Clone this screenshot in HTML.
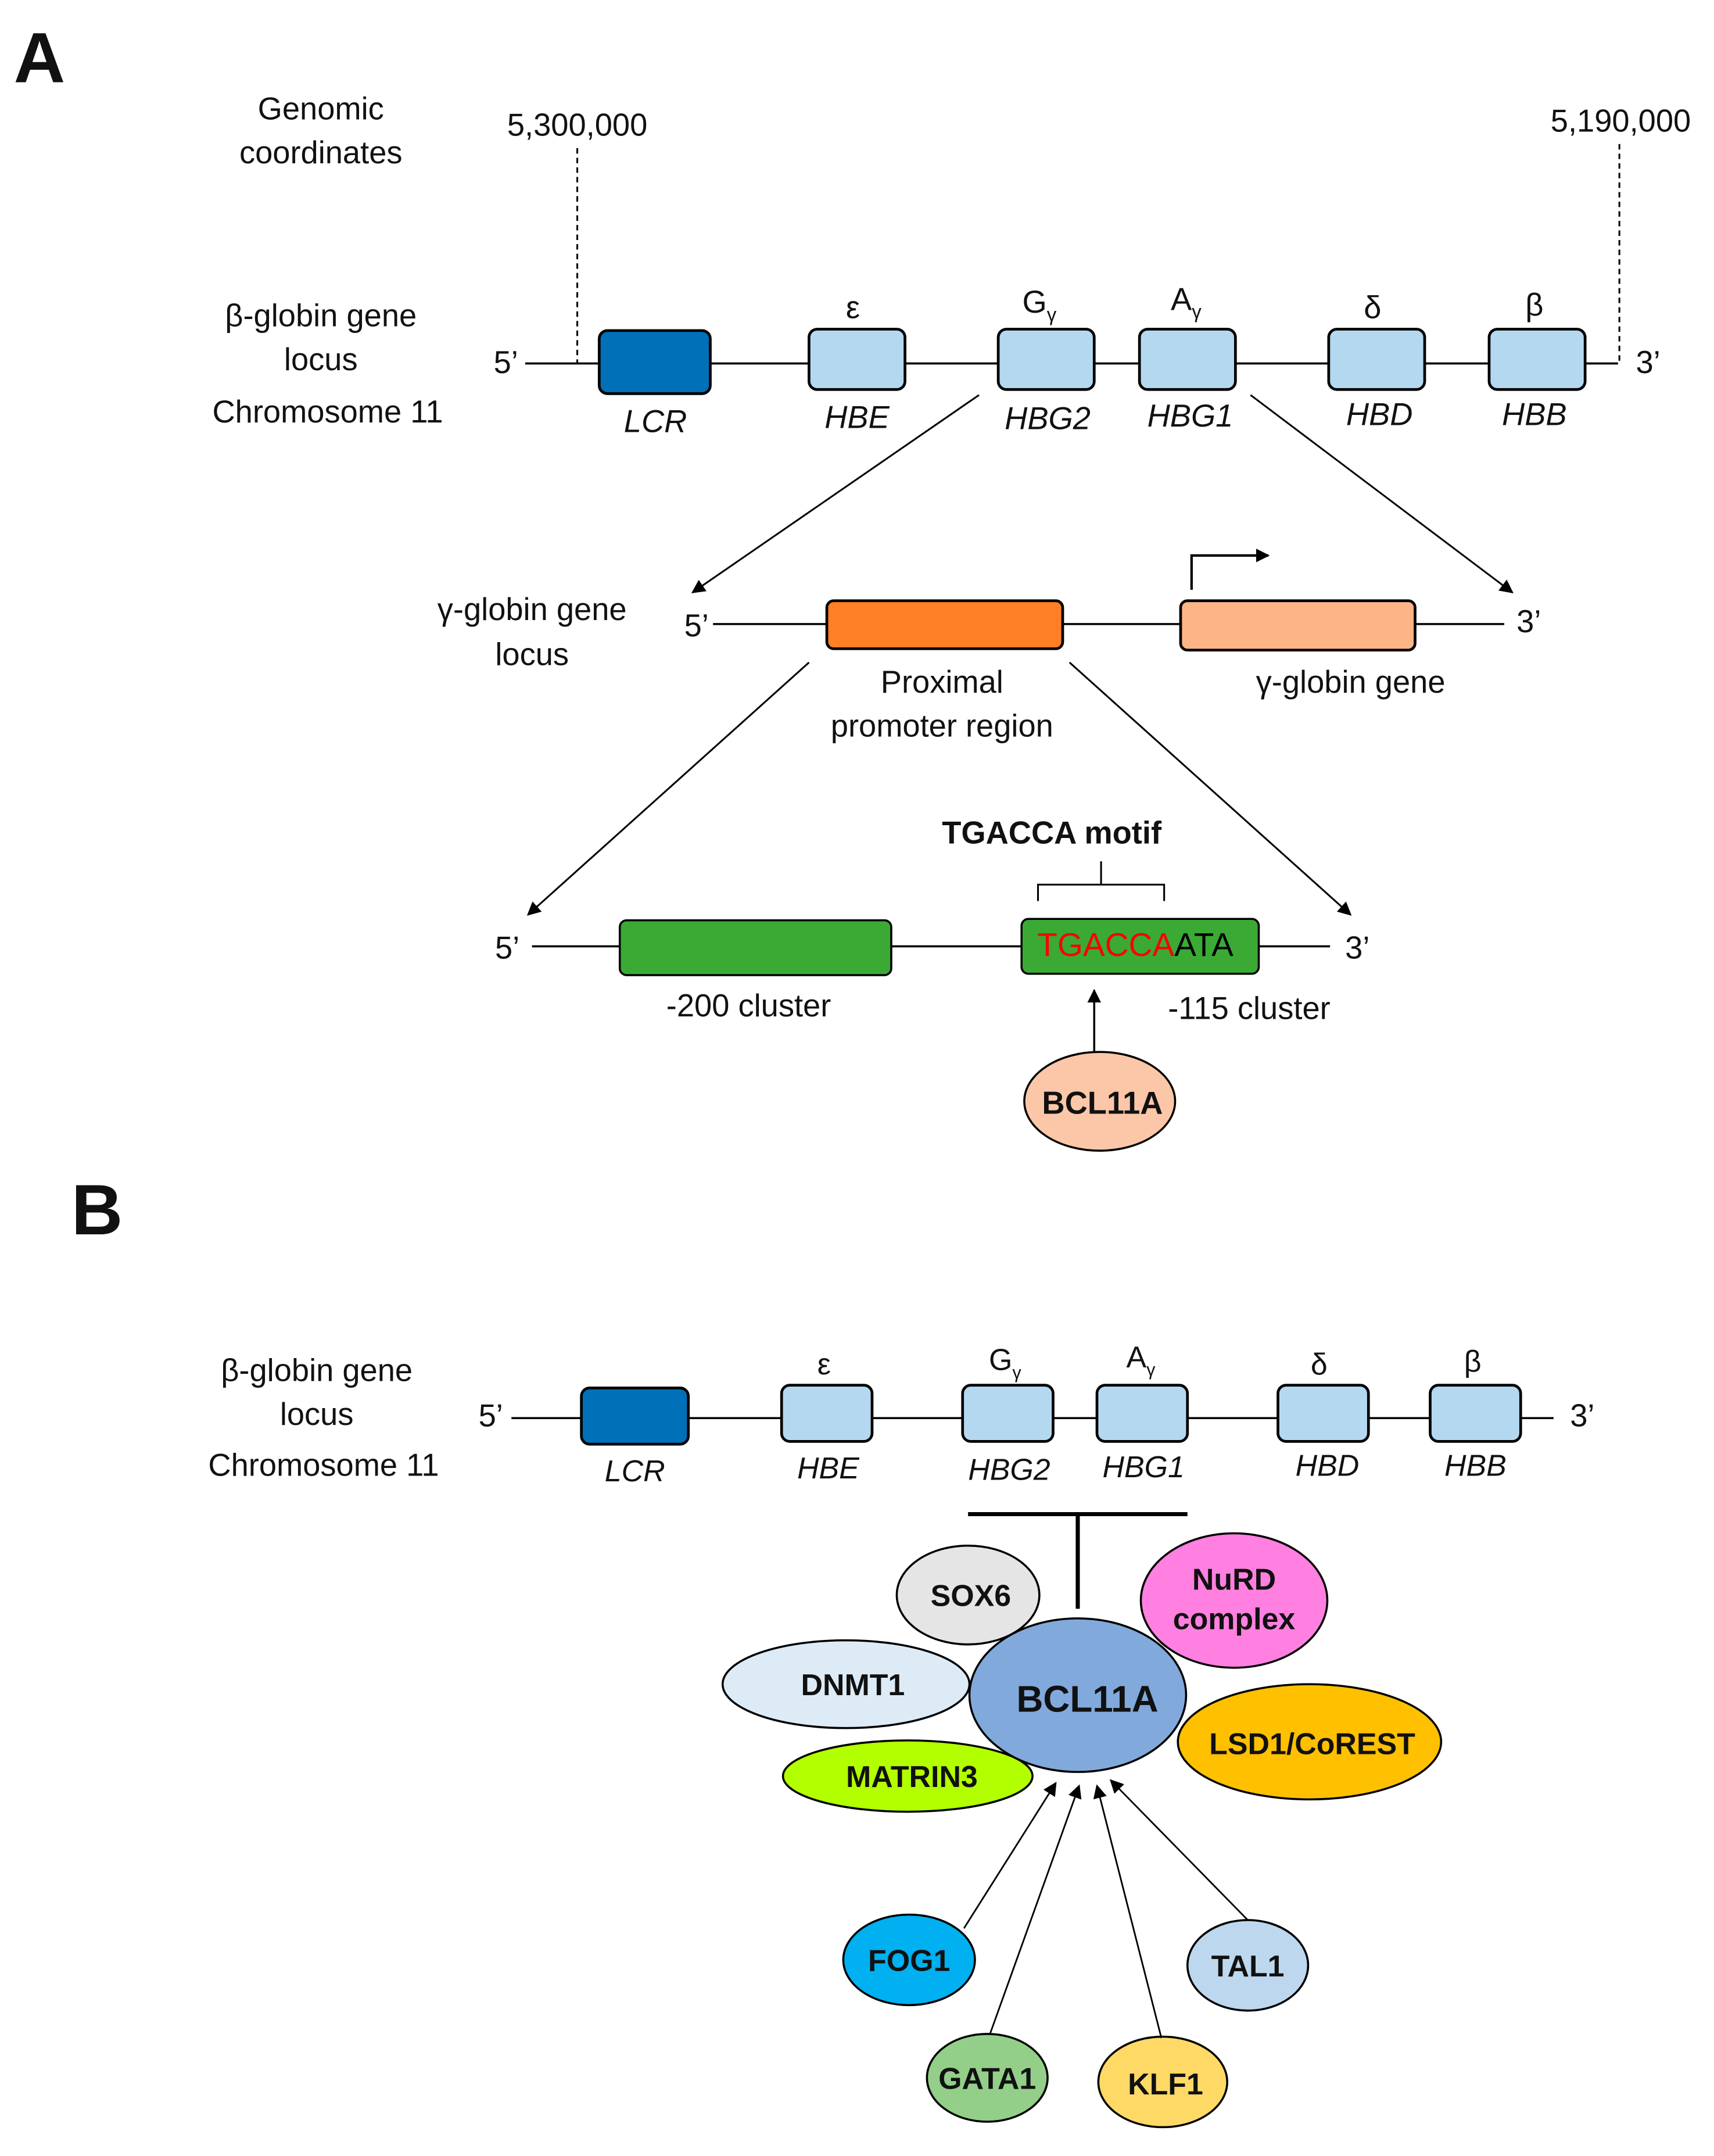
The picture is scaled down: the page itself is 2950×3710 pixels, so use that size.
<!DOCTYPE html>
<html><head><meta charset="utf-8"><style>
html,body{margin:0;padding:0;background:#fff;width:2950px;height:3710px;overflow:hidden}
svg{display:block}
text{font-family:"Liberation Sans",Arial,sans-serif;fill:#111}
</style></head><body>
<svg width="2950" height="3710" viewBox="0 0 1250 1572" xmlns="http://www.w3.org/2000/svg">
<defs>
<marker id="ah" markerWidth="10" markerHeight="10" refX="9" refY="5" orient="auto" markerUnits="userSpaceOnUse"><path d="M0,0 L10,5 L0,10 z" fill="#000"/></marker>
</defs>
<!-- A -->
<text x="10" y="60" font-size="52" font-weight="bold">A</text>
<g font-size="23" text-anchor="middle">
<text x="234" y="87">Genomic</text><text x="234" y="119">coordinates</text>
<text x="421" y="99">5,300,000</text><text x="1182" y="96">5,190,000</text>
<text x="234" y="238">β-globin gene</text><text x="234" y="270">locus</text><text x="239" y="308">Chromosome 11</text>
</g>
<line x1="421" y1="108" x2="421" y2="265" stroke="#000" stroke-width="1.3" stroke-dasharray="4,3"/>
<line x1="1181" y1="105" x2="1181" y2="265" stroke="#000" stroke-width="1.3" stroke-dasharray="4,3"/>
<text x="360" y="272" font-size="23">5’</text>
<text x="1193" y="272" font-size="23">3’</text>
<line x1="383" y1="265" x2="1180" y2="265" stroke="#000" stroke-width="1.5"/>
<g stroke="#000" stroke-width="2">
<rect x="437" y="241" width="81" height="46" rx="6" fill="#0070b8"/>
<rect x="590" y="240" width="70" height="44" rx="6" fill="#b4d8ef"/>
<rect x="728" y="240" width="70" height="44" rx="6" fill="#b4d8ef"/>
<rect x="831" y="240" width="70" height="44" rx="6" fill="#b4d8ef"/>
<rect x="969" y="240" width="70" height="44" rx="6" fill="#b4d8ef"/>
<rect x="1086" y="240" width="70" height="44" rx="6" fill="#b4d8ef"/>
</g>
<g font-size="23" text-anchor="middle">
<text x="622" y="232">ε</text>
<text x="758" y="228">G<tspan font-size="14" dy="6">γ</tspan></text>
<text x="865" y="226">A<tspan font-size="14" dy="6">γ</tspan></text>
<text x="1001" y="232">δ</text><text x="1119" y="230">β</text>
</g>
<g font-size="23" text-anchor="middle" font-style="italic">
<text x="478" y="315">LCR</text><text x="625" y="312">HBE</text><text x="764" y="313">HBG2</text>
<text x="868" y="311">HBG1</text><text x="1006" y="310">HBD</text><text x="1119" y="310">HBB</text>
</g>
<line x1="714" y1="288" x2="505" y2="432" stroke="#000" stroke-width="1.3" marker-end="url(#ah)"/>
<line x1="912" y1="288" x2="1103" y2="432" stroke="#000" stroke-width="1.3" marker-end="url(#ah)"/>
<g font-size="23" text-anchor="middle">
<text x="388" y="452">γ-globin gene</text><text x="388" y="485">locus</text>
<text x="687" y="505">Proximal</text><text x="687" y="537">promoter region</text>
<text x="985" y="505">γ-globin gene</text>
</g>
<text x="499" y="464" font-size="23">5’</text>
<text x="1106" y="461" font-size="23">3’</text>
<line x1="520" y1="455" x2="1097" y2="455" stroke="#000" stroke-width="1.5"/>
<rect x="603" y="438" width="172" height="35" rx="5" fill="#ff7f27" stroke="#000" stroke-width="2"/>
<rect x="861" y="438" width="171" height="36" rx="5" fill="#fdb587" stroke="#000" stroke-width="2"/>
<polyline points="869,430 869,405 925,405" fill="none" stroke="#000" stroke-width="1.8" marker-end="url(#ah)"/>
<line x1="590" y1="483" x2="385" y2="667" stroke="#000" stroke-width="1.3" marker-end="url(#ah)"/>
<line x1="780" y1="483" x2="985" y2="667" stroke="#000" stroke-width="1.3" marker-end="url(#ah)"/>
<text x="767" y="615" font-size="23" font-weight="bold" text-anchor="middle">TGACCA motif</text>
<path d="M757,657 L757,645 L849,645 L849,657 M803,645 L803,628" fill="none" stroke="#000" stroke-width="1.3"/>
<text x="361" y="699" font-size="23">5’</text>
<text x="981" y="699" font-size="23">3’</text>
<line x1="388" y1="690" x2="970" y2="690" stroke="#000" stroke-width="1.5"/>
<rect x="452" y="671" width="198" height="40" rx="5" fill="#3aaa35" stroke="#000" stroke-width="1.5"/>
<rect x="745" y="670" width="173" height="40" rx="5" fill="#3aaa35" stroke="#000" stroke-width="1.5"/>
<text x="828" y="697" font-size="24" text-anchor="middle"><tspan fill="#ff0000">TGACCA</tspan><tspan fill="#000">ATA</tspan></text>
<text x="546" y="741" font-size="23" text-anchor="middle">-200 cluster</text>
<text x="911" y="743" font-size="23" text-anchor="middle">-115 cluster</text>
<line x1="798" y1="768" x2="798" y2="722" stroke="#000" stroke-width="1.5" marker-end="url(#ah)"/>
<ellipse cx="802" cy="803" rx="55" ry="36" fill="#fbc7a8" stroke="#000" stroke-width="1.5"/>
<text x="804" y="812" font-size="23" font-weight="bold" text-anchor="middle">BCL11A</text>
<!-- B -->
<text x="52" y="900" font-size="52" font-weight="bold">B</text>
<g font-size="23" text-anchor="middle">
<text x="231" y="1007">β-globin gene</text><text x="231" y="1039">locus</text><text x="236" y="1076">Chromosome 11</text>
</g>
<text x="349" y="1040" font-size="23">5’</text>
<text x="1145" y="1040" font-size="23">3’</text>
<line x1="373" y1="1034" x2="1133" y2="1034" stroke="#000" stroke-width="1.5"/>
<g stroke="#000" stroke-width="2">
<rect x="424" y="1012" width="78" height="41" rx="6" fill="#0070b8"/>
<rect x="570" y="1010" width="66" height="41" rx="6" fill="#b4d8ef"/>
<rect x="702" y="1010" width="66" height="41" rx="6" fill="#b4d8ef"/>
<rect x="800" y="1010" width="66" height="41" rx="6" fill="#b4d8ef"/>
<rect x="932" y="1010" width="66" height="41" rx="6" fill="#b4d8ef"/>
<rect x="1043" y="1010" width="66" height="41" rx="6" fill="#b4d8ef"/>
</g>
<g font-size="22" text-anchor="middle">
<text x="601" y="1002">ε</text>
<text x="733" y="999">G<tspan font-size="13" dy="6">γ</tspan></text>
<text x="832" y="997">A<tspan font-size="13" dy="6">γ</tspan></text>
<text x="962" y="1002">δ</text><text x="1074" y="1000">β</text>
</g>
<g font-size="22" text-anchor="middle" font-style="italic">
<text x="463" y="1080">LCR</text><text x="604" y="1078">HBE</text><text x="736" y="1079">HBG2</text>
<text x="834" y="1077">HBG1</text><text x="968" y="1076">HBD</text><text x="1076" y="1076">HBB</text>
</g>
<line x1="706" y1="1104" x2="866" y2="1104" stroke="#000" stroke-width="3"/>
<line x1="786" y1="1104" x2="786" y2="1173" stroke="#000" stroke-width="3"/>
<g stroke="#000" stroke-width="1.5">
<ellipse cx="706" cy="1163" rx="52" ry="36" fill="#e5e5e5"/>
<ellipse cx="900" cy="1167" rx="68" ry="49" fill="#ff80e0"/>
<ellipse cx="617" cy="1228" rx="90" ry="32" fill="#ddebf7"/>
<ellipse cx="955" cy="1270" rx="96" ry="42" fill="#ffc000"/>
<ellipse cx="662" cy="1295" rx="91" ry="26" fill="#b2ff00"/>
<ellipse cx="786" cy="1236" rx="79" ry="56" fill="#82a9dc"/>
<ellipse cx="663" cy="1429" rx="48" ry="33" fill="#00b0f0"/>
<ellipse cx="910" cy="1433" rx="44" ry="33" fill="#bdd7ee"/>
<ellipse cx="720" cy="1515" rx="44" ry="32" fill="#93cf88"/>
<ellipse cx="848" cy="1518" rx="47" ry="33" fill="#ffd966"/>
</g>
<g font-weight="bold" text-anchor="middle" font-size="22">
<text x="708" y="1171">SOX6</text>
<text x="900" y="1159">NuRD</text><text x="900" y="1188">complex</text>
<text x="622" y="1236">DNMT1</text>
<text x="793" y="1248" font-size="27">BCL11A</text>
<text x="957" y="1279">LSD1/CoREST</text>
<text x="665" y="1303">MATRIN3</text>
<text x="663" y="1437">FOG1</text>
<text x="910" y="1441">TAL1</text>
<text x="720" y="1523">GATA1</text>
<text x="850" y="1527">KLF1</text>
</g>
<g stroke="#000" stroke-width="1.2">
<line x1="703" y1="1406" x2="770" y2="1300" marker-end="url(#ah)"/>
<line x1="722" y1="1483" x2="787" y2="1302" marker-end="url(#ah)"/>
<line x1="847" y1="1486" x2="800" y2="1302" marker-end="url(#ah)"/>
<line x1="910" y1="1400" x2="810" y2="1298" marker-end="url(#ah)"/>
</g>
</svg>
</body></html>
